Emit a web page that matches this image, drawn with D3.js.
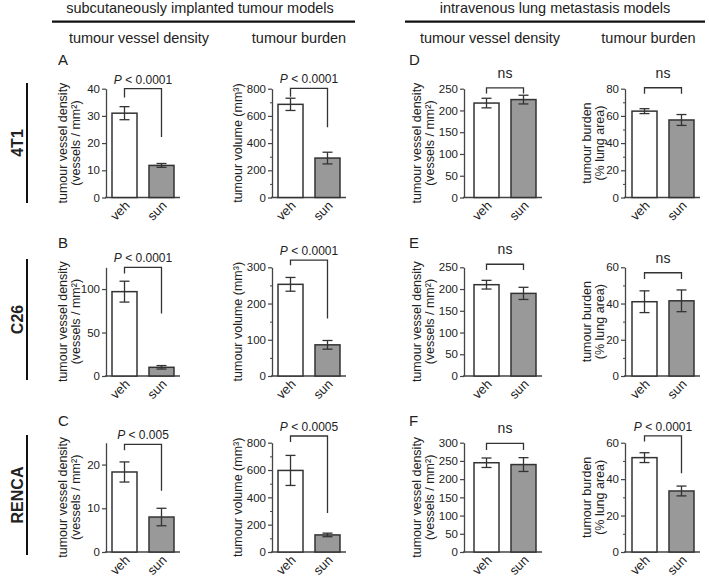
<!DOCTYPE html>
<html>
<head>
<meta charset="utf-8">
<script src="https://cdn.jsdelivr.net/npm/d3@7"></script>
<style>
body { margin: 0; background: #fff; }
svg { font-family: "Liberation Sans", Arial, Helvetica, sans-serif; }
</style>
</head>
<body>
<script>
// chart values
var models = ["4T1", "C26", "RENCA"];
var groups = ["veh", "sun"];
var sectionTitles = ["subcutaneously implanted tumour models", "intravenous lung metastasis models"];
var columnTitles = ["tumour vessel density", "tumour burden", "tumour vessel density", "tumour burden"];
var yTitles = [
  ["tumour vessel density", "(vessels / mm²)"],
  ["tumour volume (mm³)"],
  ["tumour vessel density", "(vessels / mm²)"],
  ["tumour burden", "(% lung area)"]
];
var panelLetters = [["A", "D"], ["B", "E"], ["C", "F"]];

// one entry per panel, row by row (A, A burden, D, D burden, B, ...)
var vehMean = [31, 685, 217, 63.5, 97, 253, 210, 41, 18.3, 597, 245, 51.8];
var vehSem = [2.4, 45, 11, 1.8, 12, 19, 10, 6, 2.3, 110, 13, 2.7];
var sunMean = [11.8, 290, 225, 57, 10, 86, 190, 41.5, 8, 125, 240, 33.5];
var sunSem = [0.7, 43, 10, 4, 2, 12, 14, 6, 2, 13, 19, 2.7];
var yMax = [40, 800, 250, 80, 125, 300, 250, 60, 25, 800, 300, 60];
var yStep = [10, 200, 50, 20, 50, 100, 50, 20, 10, 200, 50, 20];
var sigText = ["P < 0.0001", "P < 0.0001", "ns", "ns",
               "P < 0.0001", "P < 0.0001", "ns", "ns",
               "P < 0.005", "P < 0.0005", "ns", "P < 0.0001"];
var bracketTop = [40, 802, 252, 80.7, 125, 320, 257, 57, 24.6, 849, 298, 63.7];
var bracketLeft = [36.8, 741, 239, 76.3, 117.8, 306, 244, 53.5, 23.3, 805, 280, 60.6];
var bracketRight = [22.2, 516, 239, 76.3, 71.9, 159, 244, 53.5, 14, 285, 280, 43.2];

// layout
var colX = [106, 272, 464, 625];
var barLead = [6, 6, 10, 7];
var rowTop = [88.7, 267.3, 442.7];
var rowBottom = [197.5, 376, 552];
var titleX = [[62, 75], [237], [416, 429], [586, 599]];
var ink = "#222";

var svg = d3.select('body').append('svg')
  .attr('width', 709)
  .attr('height', 580);

// section headers
var sectionX = [200, 555];
var sectionLine = [[52, 355], [405, 705]];
sectionTitles.forEach(function(t, i) {
  svg.append('text')
    .attr('x', sectionX[i]).attr('y', 13)
    .attr('text-anchor', 'middle')
    .attr('font-size', 14.5)
    .attr('fill', ink)
    .text(t);
  svg.append('line')
    .attr('x1', sectionLine[i][0]).attr('x2', sectionLine[i][1])
    .attr('y1', 21.7).attr('y2', 21.7)
    .attr('stroke', '#111').attr('stroke-width', 2.2);
});

var colTitleX = [139, 299, 490, 648.5];
columnTitles.forEach(function(t, i) {
  svg.append('text')
    .attr('x', colTitleX[i]).attr('y', 43)
    .attr('text-anchor', 'middle')
    .attr('font-size', 14.5)
    .attr('fill', ink)
    .text(t);
});

// row labels
var rowLine = [[83, 203], [259, 380], [435, 555]];
models.forEach(function(m, r) {
  var cy = (rowLine[r][0] + rowLine[r][1]) / 2;
  svg.append('text')
    .attr('transform', 'translate(23,' + cy + ') rotate(-90)')
    .attr('text-anchor', 'middle')
    .attr('font-size', 16)
    .attr('font-weight', 'bold')
    .attr('fill', ink)
    .text(m);
  svg.append('line')
    .attr('x1', 27).attr('x2', 27)
    .attr('y1', rowLine[r][0]).attr('y2', rowLine[r][1])
    .attr('stroke', '#111').attr('stroke-width', 2);
});

// panel letters
var letterX = [58, 409];
var letterY = [65, 247.5, 426];
panelLetters.forEach(function(pair, r) {
  pair.forEach(function(l, k) {
    svg.append('text')
      .attr('x', letterX[k]).attr('y', letterY[r])
      .attr('font-size', 15)
      .attr('fill', ink)
      .text(l);
  });
});

var drawPanel = function(r, c) {
  var i = r * 4 + c;
  var g = svg.append('g');

  var y = d3.scaleLinear()
    .domain([0, yMax[i]])
    .range([rowBottom[r], rowTop[r]]);
  var x = d3.scaleBand()
    .domain(groups)
    .range([colX[c] + barLead[c], colX[c] + barLead[c] + 62])
    .paddingInner(0.324);

  // minor ticks on burden panels
  if (c === 1 || c === 3) {
    g.append('g')
      .attr('transform', 'translate(' + colX[c] + ',0)')
      .call(d3.axisLeft(y)
        .tickValues(d3.range(yStep[i] / 2, yMax[i], yStep[i]))
        .tickSize(2).tickSizeOuter(0).tickFormat(''))
      .call(function(a) { a.select('.domain').remove(); })
      .selectAll('line').attr('stroke', '#444');
  }

  var yAxis = g.append('g')
    .attr('transform', 'translate(' + colX[c] + ',0)')
    .call(d3.axisLeft(y)
      .tickValues(d3.range(0, yMax[i] + 1e-9, yStep[i]))
      .tickSize(4).tickSizeOuter(0).tickPadding(2));
  yAxis.select('.domain').attr('stroke', '#444').attr('stroke-width', 1.3);
  yAxis.selectAll('.tick line').attr('stroke', '#444').attr('stroke-width', 1.2);
  yAxis.selectAll('.tick text')
    .attr('font-size', 11.5)
    .attr('font-family', '"Liberation Sans", Arial, sans-serif')
    .attr('fill', ink);

  // x axis
  g.append('line')
    .attr('x1', colX[c] - 1).attr('x2', x.range()[1] + 6)
    .attr('y1', rowBottom[r]).attr('y2', rowBottom[r])
    .attr('stroke', '#444').attr('stroke-width', 1.3);
  var xAxis = g.append('g')
    .attr('transform', 'translate(0,' + rowBottom[r] + ')')
    .call(d3.axisBottom(x).tickSize(0));
  xAxis.select('.domain').remove();
  xAxis.selectAll('.tick text')
    .attr('y', 0).attr('dy', 0)
    .attr('transform', 'translate(6,9) rotate(-45)')
    .attr('text-anchor', 'end')
    .attr('font-size', 13)
    .attr('font-family', '"Liberation Sans", Arial, sans-serif')
    .attr('fill', ink);

  var rows = [
    { k: 'veh', m: vehMean[i], e: vehSem[i], fill: '#fff' },
    { k: 'sun', m: sunMean[i], e: sunSem[i], fill: '#999' }
  ];

  g.selectAll('rect.bar')
    .data(rows)
    .enter().append('rect')
    .attr('class', 'bar')
    .attr('x', function(d) { return x(d.k); })
    .attr('y', function(d) { return y(d.m); })
    .attr('width', x.bandwidth())
    .attr('height', function(d) { return y(0) - y(d.m); })
    .attr('fill', function(d) { return d.fill; })
    .attr('stroke', '#333')
    .attr('stroke-width', 1.5);

  // error bars
  var cx = function(d) { return x(d.k) + x.bandwidth() / 2; };
  var err = g.selectAll('g.err')
    .data(rows)
    .enter().append('g')
    .attr('class', 'err')
    .attr('stroke', '#333')
    .attr('stroke-width', 1.3);
  err.append('line')
    .attr('x1', cx).attr('x2', cx)
    .attr('y1', function(d) { return y(d.m + d.e); })
    .attr('y2', function(d) { return y(d.m - d.e); });
  err.append('line')
    .attr('x1', function(d) { return cx(d) - 5; })
    .attr('x2', function(d) { return cx(d) + 5; })
    .attr('y1', function(d) { return y(d.m + d.e); })
    .attr('y2', function(d) { return y(d.m + d.e); });
  err.append('line')
    .attr('x1', function(d) { return cx(d) - 5; })
    .attr('x2', function(d) { return cx(d) + 5; })
    .attr('y1', function(d) { return y(d.m - d.e); })
    .attr('y2', function(d) { return y(d.m - d.e); });

  // significance bracket
  var xl = cx(rows[0]), xr = cx(rows[1]);
  g.append('path')
    .attr('d', 'M' + xl + ',' + y(bracketLeft[i]) +
      'V' + y(bracketTop[i]) + 'H' + xr + 'V' + y(bracketRight[i]))
    .attr('fill', 'none')
    .attr('stroke', '#333')
    .attr('stroke-width', 1.3);

  var label = g.append('text')
    .attr('x', (xl + xr) / 2)
    .attr('text-anchor', 'middle')
    .attr('fill', ink);
  if (sigText[i] === 'ns') {
    label.attr('y', y(bracketTop[i]) - 10).attr('font-size', 14).text('ns');
  } else {
    label.attr('y', y(bracketTop[i]) - 5).attr('font-size', 12);
    label.append('tspan').attr('font-style', 'italic').text('P');
    label.append('tspan').text(sigText[i].slice(1));
  }

  // y title
  var mid = (rowTop[r] + rowBottom[r]) / 2;
  yTitles[c].forEach(function(t, k) {
    g.append('text')
      .attr('transform', 'translate(' + (titleX[c][k] + 4.5) + ',' + mid + ') rotate(-90)')
      .attr('text-anchor', 'middle')
      .attr('font-size', 12.5)
      .attr('fill', ink)
      .text(t);
  });
};

for (var r = 0; r < 3; r++) {
  for (var c = 0; c < 4; c++) {
    drawPanel(r, c);
  }
}
</script>
</body>
</html>
